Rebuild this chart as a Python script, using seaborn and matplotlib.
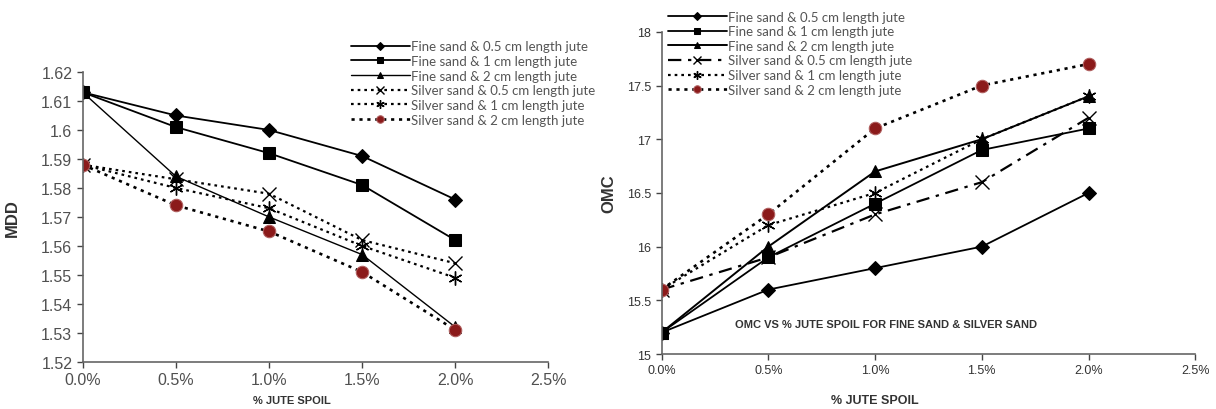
import numpy as np
import pandas as pd
import seaborn as sns
import matplotlib.pyplot as plt

jute = [0.0, 0.005, 0.010, 0.015, 0.020]
labels = ["Fine sand & 0.5 cm length jute", "Fine sand & 1 cm length jute",
          "Fine sand & 2 cm length jute", "Silver sand & 0.5 cm length jute",
          "Silver sand & 1 cm length jute", "Silver sand & 2 cm length jute"]

mdd_fine_05 = [1.613, 1.605, 1.600, 1.591, 1.576]
mdd_fine_1 = [1.613, 1.601, 1.592, 1.581, 1.562]
mdd_fine_2 = [1.613, 1.584, 1.570, 1.557, 1.532]
mdd_silver_05 = [1.588, 1.583, 1.578, 1.562, 1.554]
mdd_silver_1 = [1.588, 1.580, 1.573, 1.560, 1.549]
mdd_silver_2 = [1.588, 1.574, 1.565, 1.551, 1.531]

omc_fine_05 = [15.2, 15.6, 15.8, 16.0, 16.5]
omc_fine_1 = [15.2, 15.9, 16.4, 16.9, 17.1]
omc_fine_2 = [15.2, 16.0, 16.7, 17.0, 17.4]
omc_silver_05 = [15.6, 15.9, 16.3, 16.6, 17.2]
omc_silver_1 = [15.6, 16.2, 16.5, 17.0, 17.4]
omc_silver_2 = [15.6, 16.3, 17.1, 17.5, 17.7]

sns.set_style("ticks")
plt.rcParams["font.family"] = ["Liberation Sans", "DejaVu Sans"]

red = "#8b1a1a"
star = (6, 2, 0)


def styles(right):
    dot = (0, (1.2, 1.8))
    return [
        dict(marker="D", markersize=7, color="black", markeredgecolor="black",
             linestyle="-", linewidth=1.3),
        dict(marker="s", markersize=8, color="black", markeredgecolor="black",
             linestyle="-", linewidth=1.3),
        dict(marker="^", markersize=8, color="black", markeredgecolor="black",
             linestyle="-", linewidth=1.0 if not right else 1.4),
        dict(marker="x", markersize=10, markeredgewidth=1.0, color="black",
             markeredgecolor="black",
             linestyle=(0, (6, 3, 1.5, 3)) if right else dot, linewidth=1.6),
        dict(marker=star, markersize=10, markeredgewidth=1.0, color="black",
             markeredgecolor="black", linestyle=dot, linewidth=1.6),
        dict(marker="o", markersize=9, color="black", markerfacecolor=red,
             markeredgecolor="#b06060", linestyle=dot, linewidth=1.9),
    ]


fig = plt.figure(figsize=(12.16, 4.10), dpi=100)
ax1 = fig.add_axes([0.068, 0.115, 0.383, 0.707])
ax2 = fig.add_axes([0.544, 0.134, 0.439, 0.786])

mdd = [mdd_fine_05, mdd_fine_1, mdd_fine_2, mdd_silver_05, mdd_silver_1, mdd_silver_2]
omc = [omc_fine_05, omc_fine_1, omc_fine_2, omc_silver_05, omc_silver_1, omc_silver_2]

for ax, series, right in [(ax1, mdd, False), (ax2, omc, True)]:
    for vals, lab, st in zip(series, labels, styles(right)):
        df = pd.DataFrame({"jute": jute, "val": vals})
        sns.lineplot(data=df, x="jute", y="val", ax=ax, label=lab, **st)
    ax.set_xlim(0, 0.025)
    ax.set_xticks([0, 0.005, 0.010, 0.015, 0.020, 0.025])
    ax.set_xticklabels(["0.0%", "0.5%", "1.0%", "1.5%", "2.0%", "2.5%"])
    for s in ["top", "right"]:
        ax.spines[s].set_visible(False)
    for s in ["left", "bottom"]:
        ax.spines[s].set_color("#666666")
        ax.spines[s].set_linewidth(1.2)
    ax.tick_params(colors="#444444", length=4, width=1.0)

ax1.set_ylim(1.52, 1.62)
ax1.set_yticks(np.arange(1.52, 1.6201, 0.01))
ax1.set_yticklabels(["1.52", "1.53", "1.54", "1.55", "1.56", "1.57", "1.58",
                     "1.59", "1.6", "1.61", "1.62"])
ax1.tick_params(labelsize=11.5, labelcolor="#505050")
ax1.set_ylabel("MDD", fontsize=12, fontweight="bold", color="#333333")
ax1.yaxis.set_label_coords(-0.135, 0.5)
ax1.set_xlabel("% JUTE SPOIL", fontsize=8, fontweight="bold", color="#333333")
ax1.xaxis.set_label_coords(0.45, -0.115)

ax2.set_ylim(15, 18)
ax2.set_yticks([15, 15.5, 16, 16.5, 17, 17.5, 18])
ax2.set_yticklabels(["15", "15.5", "16", "16.5", "17", "17.5", "18"])
ax2.tick_params(labelsize=9, labelcolor="#333333")
ax2.set_ylabel("OMC", fontsize=12, fontweight="bold", color="#333333")
ax2.yaxis.set_label_coords(-0.085, 0.5)
ax2.set_xlabel("% JUTE SPOIL", fontsize=9, fontweight="bold", color="#333333")
ax2.xaxis.set_label_coords(0.40, -0.125)
ax2.text(0.42, 0.093, "OMC VS % JUTE SPOIL FOR FINE SAND & SILVER SAND",
         transform=ax2.transAxes, ha="center", va="center", fontsize=8,
         fontweight="bold", color="#333333")

common = dict(loc="upper left", bbox_transform=fig.transFigure, fontsize=9.5,
              handlelength=4.5, labelspacing=0.2, handletextpad=0.1,
              borderaxespad=0, markerscale=0.6)
leg1 = ax1.legend(bbox_to_anchor=(0.284, 0.912), frameon=False, **common)
leg2 = ax2.legend(bbox_to_anchor=(0.548, 0.975), frameon=True, borderpad=0.1,
                  facecolor="white", edgecolor="none", framealpha=1, **common)
for leg in (leg1, leg2):
    for t in leg.get_texts():
        t.set_color("#555555")
        t.set_family(["Lato", "DejaVu Sans"])

fig.savefig("out.png", dpi=100)
